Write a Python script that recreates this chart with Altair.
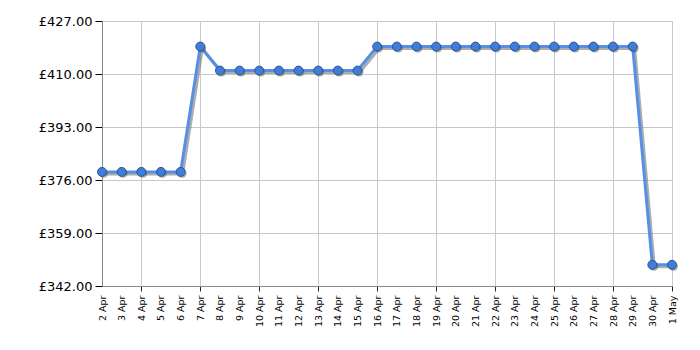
import altair as alt
import pandas as pd

days = ["2 Apr", "3 Apr", "4 Apr", "5 Apr", "6 Apr", "7 Apr", "8 Apr", "9 Apr",
        "10 Apr", "11 Apr", "12 Apr", "13 Apr", "14 Apr", "15 Apr", "16 Apr",
        "17 Apr", "18 Apr", "19 Apr", "20 Apr", "21 Apr", "22 Apr", "23 Apr",
        "24 Apr", "25 Apr", "26 Apr", "27 Apr", "28 Apr", "29 Apr", "30 Apr", "1 May"]
prices = [378.6, 378.6, 378.6, 378.6, 378.6, 418.8, 411.1, 411.1,
          411.1, 411.1, 411.1, 411.1, 411.1, 411.1, 418.8,
          418.8, 418.8, 418.8, 418.8, 418.8, 418.8, 418.8,
          418.8, 418.8, 418.8, 418.8, 418.8, 418.8, 348.8, 348.8]
y_ticks = [342, 359, 376, 393, 410, 427]
grid_days = ["4 Apr", "7 Apr", "10 Apr", "13 Apr", "16 Apr", "19 Apr", "22 Apr",
             "25 Apr", "28 Apr", "1 May"]

df = pd.DataFrame({"day": days, "price": prices})

grid_list = "[" + ",".join("'" + d + "'" for d in grid_days) + "]"
test = f"indexof({grid_list}, datum.value) >= 0"

x_enc = alt.X(
    "day:O", sort=days,
    scale=alt.Scale(type="point", padding=0),
    axis=alt.Axis(
        title=None, labelAngle=270, labelAlign="right", labelBaseline="middle",
        labelFont="DejaVu Sans", labelFontSize=9.5, labelColor="#000",
        labelPadding=4, tickSize=5, tickColor="#222",
        tickOpacity={"condition": {"test": test, "value": 1}, "value": 0},
        grid=True, gridColor="#c8c8c8",
        gridOpacity={"condition": {"test": test, "value": 1}, "value": 0},
        domainColor="#888",
    ),
)
y_enc = alt.Y(
    "price:Q",
    scale=alt.Scale(domain=[342, 427], nice=False, zero=False),
    axis=alt.Axis(
        title=None, values=y_ticks, labelExpr="'£' + format(datum.value, '.2f')",
        labelFont="DejaVu Sans", labelFontSize=13, labelColor="#000",
        tickSize=7, tickColor="#000", labelPadding=3,
        gridColor="#c8c8c8", domainColor="#888",
    ),
)

shadow = alt.Chart(df).mark_line(color="#777", strokeWidth=3, opacity=0.6,
                                 xOffset=2, yOffset=2).encode(x=x_enc, y=y_enc)
line = alt.Chart(df).mark_line(color="#5590e6", strokeWidth=3).encode(x=x_enc, y=y_enc)
pt_shadow = alt.Chart(df).mark_circle(color="#555", size=80, opacity=0.5,
                                      xOffset=1.5, yOffset=1.5).encode(x=x_enc, y=y_enc)
pts = alt.Chart(df).mark_point(filled=True, fill="#3f7dd6", stroke="#2a5596",
                               strokeWidth=1, size=80, opacity=1).encode(x=x_enc, y=y_enc)

chart = alt.layer(shadow, line, pt_shadow, pts).properties(
    width=570, height=265,
    autosize=alt.AutoSizeParams(type="none"),
    padding={"left": 102, "top": 21, "right": 28, "bottom": 64},
    background="white",
).configure_view(stroke="#999")

chart.save("out.html", embed_options={"renderer": "svg", "actions": False})
